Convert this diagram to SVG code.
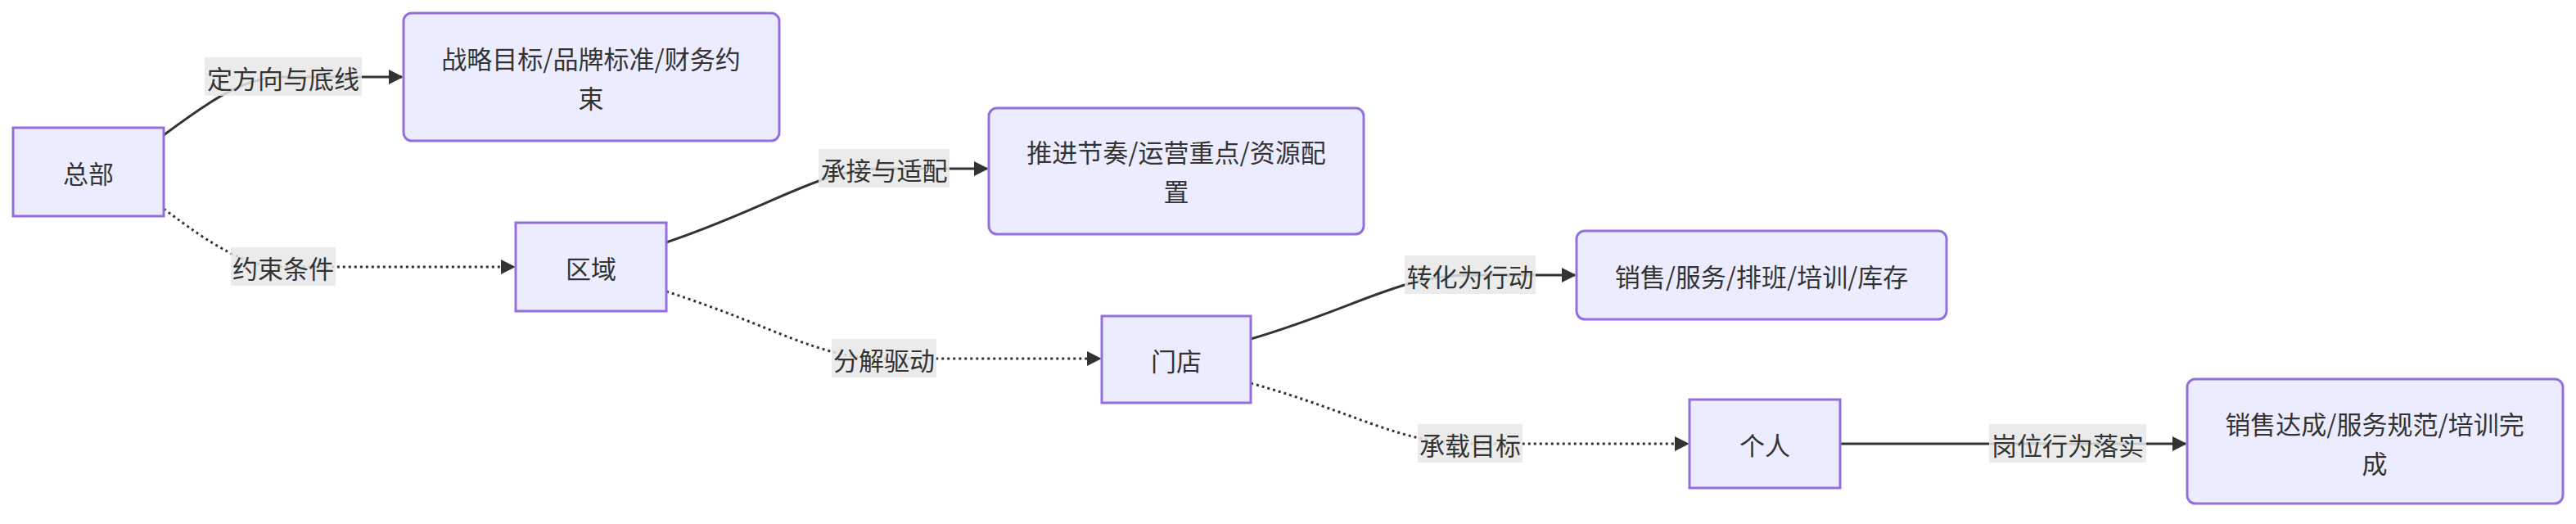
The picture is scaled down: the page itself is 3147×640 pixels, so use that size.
<svg xmlns="http://www.w3.org/2000/svg" width="3147" height="640" viewBox="0 0 3147 640">
<style>
.n{fill:#ECECFF;stroke:#9370DB;stroke-width:3}
.t{font-family:"Noto Sans CJK SC","Liberation Sans",sans-serif;font-size:31px;fill:#333;text-anchor:middle;dominant-baseline:central}
.e{fill:none;stroke:#333;stroke-width:3}
.d{stroke-dasharray:3 4}
.lb{fill:#e8e8e8;opacity:0.85}
</style>
<defs><marker id="a" viewBox="0 0 10 10" refX="9" refY="5" markerWidth="6" markerHeight="6" orient="auto" markerUnits="userSpaceOnUse"><path d="M0,0L10,5L0,10z" fill="#333"/></marker>
<marker id="m" viewBox="0 0 10 10" refX="9" refY="5" markerWidth="18" markerHeight="18" orient="auto" markerUnits="userSpaceOnUse"><path d="M0,0L10,5L0,10z" fill="#333"/></marker></defs>
<g id="edges">
<path class="e" d="M200,165 C260,120 300,94 346,94 L491,94" marker-end="url(#m)"/>
<path class="e d" d="M200,255 C260,300 300,326 346,326 L628,326" marker-end="url(#m)"/>
<path class="e" d="M814,296 C950,250 1000,206 1080,206 L1206,206" marker-end="url(#m)"/>
<path class="e d" d="M814,356 C950,400 1000,438 1080,438 L1344,438" marker-end="url(#m)"/>
<path class="e" d="M1528,414 C1660,375 1710,336 1796,336 L1924,336" marker-end="url(#m)"/>
<path class="e d" d="M1528,468 C1660,505 1710,542 1796,542 L2062,542" marker-end="url(#m)"/>
<path class="e" d="M2248,542 L2670,542" marker-end="url(#m)"/>
<rect class="lb" x="250" y="70" width="192" height="47"/><text class="t" x="346" y="94">定方向与底线</text>
<rect class="lb" x="282" y="302" width="128" height="47"/><text class="t" x="346" y="326">约束条件</text>
<rect class="lb" x="1000" y="182" width="160" height="47"/><text class="t" x="1080" y="206">承接与适配</text>
<rect class="lb" x="1016" y="414" width="128" height="47"/><text class="t" x="1080" y="438">分解驱动</text>
<rect class="lb" x="1716" y="312" width="160" height="47"/><text class="t" x="1796" y="336">转化为行动</text>
<rect class="lb" x="1732" y="518" width="128" height="47"/><text class="t" x="1796" y="542">承载目标</text>
<rect class="lb" x="2430" y="518" width="192" height="47"/><text class="t" x="2526" y="542">岗位行为落实</text>
</g>
<g id="hq"><rect class="n" x="16" y="156" width="184" height="108"/><text class="t" x="108" y="210">总部</text></g>
<g id="hqout"><rect class="n" x="493" y="16" width="459" height="156" rx="10"/><text class="t" x="722" y="70">战略目标/品牌标准/财务约</text><text class="t" x="722" y="118">束</text></g>
<g id="region"><rect class="n" x="630" y="272" width="184" height="108"/><text class="t" x="722" y="326">区域</text></g>
<g id="regout"><rect class="n" x="1208" y="132" width="458" height="154" rx="10"/><text class="t" x="1437" y="184">推进节奏/运营重点/资源配</text><text class="t" x="1437" y="232">置</text></g>
<g id="store"><rect class="n" x="1346" y="386" width="182" height="106"/><text class="t" x="1437" y="439">门店</text></g>
<g id="storeout"><rect class="n" x="1926" y="282" width="452" height="108" rx="10"/><text class="t" x="2152" y="336">销售/服务/排班/培训/库存</text></g>
<g id="person"><rect class="n" x="2064" y="488" width="184" height="108"/><text class="t" x="2156" y="542">个人</text></g>
<g id="personout"><rect class="n" x="2672" y="463" width="459" height="152" rx="10"/><text class="t" x="2901" y="516">销售达成/服务规范/培训完</text><text class="t" x="2901" y="564">成</text></g>
</svg>
